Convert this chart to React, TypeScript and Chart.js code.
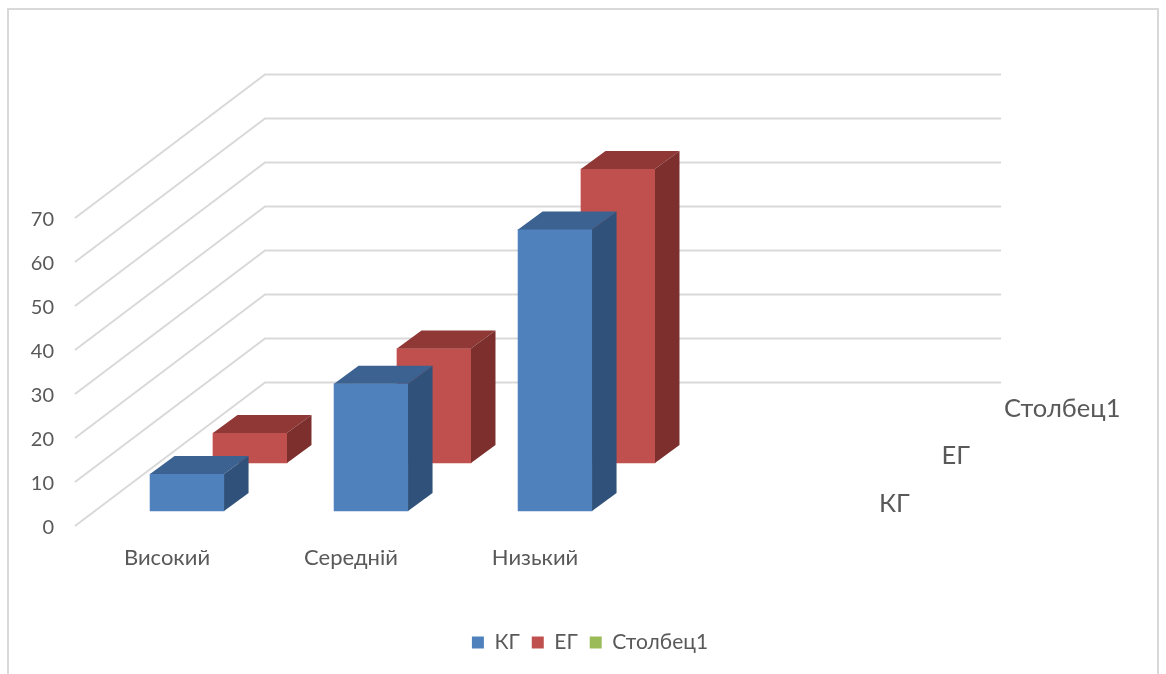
import { useEffect, useRef } from "react";
import { Chart, registerables } from "chart.js";

Chart.register(...registerables);

const categories = ["Високий", "Середній", "Низький", ""];
const seriesNames = ["КГ", "ЕГ", "Столбец1"];
const kgValues = [8.4, 28.9, 64];
const egValues = [6.8, 26, 66.8];
const emptyValues: number[] = [];

const FONT = "Lato";
const TEXT = "#595959";
const GRID = "#d9d9d9";
const FRONT = ["#4f81bd", "#c0504d", "#9bbb59"];
const TOP = ["#3c6291", "#8f3836"];
const SIDE = ["#30527a", "#7c2f2d"];

// Oblique projection of the box: how far the back wall sits from the front plane.
const WALL_DX = 190;
const WALL_DY = 143.5;
const BAR_DX = 24.5;
const BAR_DY = 18;
const LEGEND_GAP = 11;

const toPoints = (values: number[]) => values.map((y, x) => ({ x, y }));

const polygon = (ctx: CanvasRenderingContext2D, pts: number[][], fill: string) => {
  ctx.beginPath();
  pts.forEach(([x, y], i) => (i ? ctx.lineTo(x, y) : ctx.moveTo(x, y)));
  ctx.closePath();
  ctx.fillStyle = fill;
  ctx.fill();
};

const perspective = {
  id: "perspective",
  beforeDraw(chart: any) {
    const { ctx, width } = chart;
    ctx.save();
    ctx.strokeStyle = GRID;
    ctx.lineWidth = 2;
    ctx.beginPath();
    ctx.moveTo(8, chart.height);
    ctx.lineTo(8, 9);
    ctx.lineTo(width - 8, 9);
    ctx.lineTo(width - 8, chart.height);
    ctx.stroke();
    ctx.restore();
  },
  beforeDatasetsDraw(chart: any) {
    const { ctx, chartArea, scales } = chart;
    ctx.save();
    ctx.strokeStyle = GRID;
    ctx.lineWidth = 2;
    for (const tick of scales.y.ticks) {
      const y = scales.y.getPixelForValue(tick.value);
      ctx.beginPath();
      ctx.moveTo(chartArea.left, y);
      ctx.lineTo(chartArea.left + WALL_DX, y - WALL_DY);
      ctx.lineTo(chartArea.right + WALL_DX, y - WALL_DY);
      ctx.stroke();
    }
    ctx.restore();
  },
  afterDatasetDraw(chart: any, args: any) {
    const { ctx } = chart;
    const top = TOP[args.index];
    const side = SIDE[args.index];
    if (!top) return;
    for (const bar of args.meta.data) {
      const l = bar.x - bar.width / 2;
      const r = bar.x + bar.width / 2;
      polygon(ctx, [[l, bar.y], [l + BAR_DX, bar.y - BAR_DY], [r + BAR_DX, bar.y - BAR_DY], [r, bar.y]], top);
      polygon(ctx, [[r, bar.y], [r + BAR_DX, bar.y - BAR_DY], [r + BAR_DX, bar.base - BAR_DY], [r, bar.base]], side);
    }
  },
  afterDraw(chart: any) {
    // Depth axis: one series name per row along the floor's right edge.
    const { ctx, chartArea } = chart;
    ctx.save();
    ctx.font = `25.5px ${FONT}`;
    ctx.fillStyle = TEXT;
    ctx.textBaseline = "middle";
    seriesNames.forEach((name, i) => {
      ctx.fillText(name, chartArea.right + 68 + 62.5 * i, chartArea.bottom - 22.5 - 47.5 * i);
    });
    ctx.restore();
  },
};

export default function App() {
  const ref = useRef<HTMLCanvasElement>(null);

  useEffect(() => {
    const hiddenX = (min: number) => ({
      type: "linear" as const,
      axis: "x",
      display: false,
      offset: false,
      min,
      max: min + 4,
    });
    const hiddenY = (min: number) => ({
      type: "linear" as const,
      axis: "y",
      display: false,
      min,
      max: min + 70,
    });
    const bar = { borderWidth: 0, barThickness: 74, grouped: false, clip: false as const };
    const chart = new Chart(ref.current!, {
      type: "bar",
      data: {
        labels: categories,
        datasets: [
          { label: seriesNames[0], data: toPoints(kgValues) as any, backgroundColor: FRONT[0], xAxisID: "xKG", yAxisID: "yKG", ...bar },
          { label: seriesNames[1], data: toPoints(egValues) as any, backgroundColor: FRONT[1], xAxisID: "xEG", yAxisID: "yEG", ...bar },
          { label: seriesNames[2], data: emptyValues as any, backgroundColor: FRONT[2], xAxisID: "xKG", yAxisID: "yKG", ...bar },
        ],
      },
      options: {
        responsive: false,
        animation: false,
        layout: { padding: { left: 14, top: 218, bottom: LEGEND_GAP } },
        plugins: {
          tooltip: { enabled: false },
          legend: {
            position: "bottom",
            labels: {
              boxWidth: 12,
              boxHeight: 12,
              padding: 12,
              color: TEXT,
              font: { family: FONT, size: 21 },
            },
          },
        },
        scales: {
          x: {
            type: "category",
            offset: true,
            grid: { display: false },
            border: { display: false },
            ticks: { color: TEXT, font: { family: FONT, size: 22 }, padding: 11, maxRotation: 0 },
            afterFit: (s: any) => {
              s.height = 148 - LEGEND_GAP - s.chart.legend.height;
            },
          },
          y: {
            min: 0,
            max: 70,
            grid: { display: false },
            border: { display: false },
            ticks: { stepSize: 10, color: TEXT, font: { family: FONT, size: 20 }, padding: 13, labelOffset: 2 },
            afterFit: (s: any) => {
              s.width = 61;
            },
          },
          spacer: {
            type: "linear",
            position: "right",
            grid: { display: false },
            border: { display: false },
            ticks: { display: false },
            afterFit: (s: any) => {
              s.width = 355;
            },
          },
          xKG: hiddenX(-0.609),
          xEG: hiddenX(-0.951),
          yKG: hiddenY(-3.41),
          yEG: hiddenY(-14.32),
        },
      } as any,
      plugins: [perspective],
    });
    return () => chart.destroy();
  }, []);

  return (
    <div style={{ position: "fixed", left: 0, top: 0, width: 1166, height: 674, background: "#fff" }}>
      <canvas ref={ref} width={1166} height={674} style={{ display: "block" }} />
    </div>
  );
}
